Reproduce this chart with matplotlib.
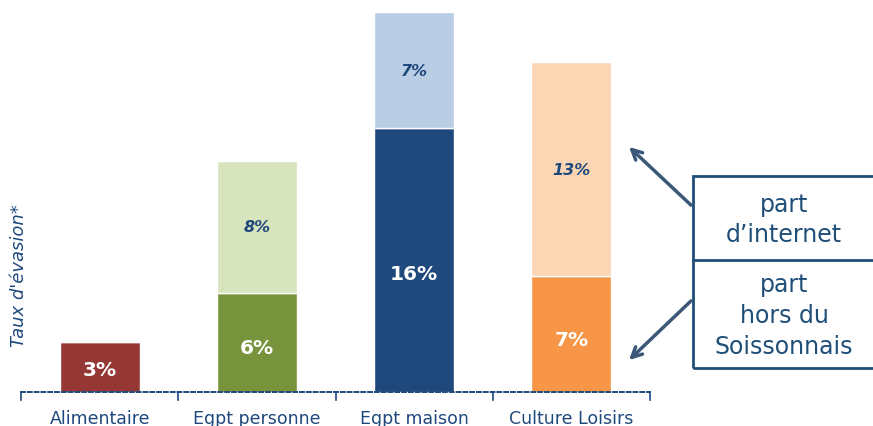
import matplotlib.pyplot as plt
from matplotlib.patches import Rectangle

categories = ['Alimentaire', 'Egpt personne', 'Egpt maison', 'Culture Loisirs']
hors_soissonnais = [3, 6, 16, 7]
internet = [0, 8, 7, 13]

dark_colors = ['#953735', '#77933C', '#1F497D', '#F79646']
light_colors = ['#D7E4BD', '#D7E4BD', '#B9CDE5', '#FCD5B5']
navy = '#1F497D'

fig = plt.figure(figsize=(8.73, 4.27), dpi=100)
ax = fig.add_axes([21 / 873, 34 / 427, 629 / 873, 393 / 427])

x = list(range(len(categories)))
ax.bar(x, hors_soissonnais, width=0.51, color=dark_colors, edgecolor='white', linewidth=1)
ax.bar(x, internet, width=0.51, bottom=hors_soissonnais, color=light_colors,
       edgecolor='white', linewidth=1)

for i in x:
    ax.text(i, hors_soissonnais[i] * 0.45, f'{hors_soissonnais[i]}%', ha='center', va='center',
            color='white', fontsize=14.5, fontweight='bold')
    if internet[i] > 0:
        ax.text(i, hors_soissonnais[i] + internet[i] / 2, f'{internet[i]}%', ha='center',
                va='center', color=navy, fontsize=11.5, fontweight='bold', style='italic')

ax.set_xlim(-0.5, 3.5)
ax.set_ylim(0, 23.8)
ax.set_yticks([])
ax.set_xticks(x)
ax.set_xticklabels(categories, fontsize=12.5, color=navy)
ax.tick_params(axis='x', length=0, pad=12)
for s in ['top', 'right', 'left']:
    ax.spines[s].set_visible(False)
ax.spines['bottom'].set_color(navy)
ax.spines['bottom'].set_linestyle((0, (2, 1.5)))
ax.spines['bottom'].set_linewidth(1.4)
# boundary ticks
for b in [-0.5, 0.5, 1.5, 2.5, 3.5]:
    ax.plot([b, b], [0, -0.5], color=navy, lw=1.2, clip_on=False)

fig.text(19 / 873, 1 - 276 / 427, "Taux d'évasion*", rotation=90, ha='center', va='center',
         color=navy, fontsize=13, style='italic')

# legend box on the right
box_color = '#1F4E79'
fig.patches.append(Rectangle((693 / 873, 1 - 369 / 427), 200 / 873, 192 / 427,
                             transform=fig.transFigure, fill=False, edgecolor=box_color, lw=2))
fig.add_artist(plt.Line2D([693 / 873, 1], [1 - 261 / 427, 1 - 261 / 427],
                          transform=fig.transFigure, color=box_color, lw=2))
fig.text(784 / 873, 1 - 220 / 427, "part\nd\u2019internet", ha='center', va='center',
         color=box_color, fontsize=17, linespacing=1.35)
fig.text(784 / 873, 1 - 316 / 427, "part\nhors du\nSoissonnais", ha='center', va='center',
         color=box_color, fontsize=17, linespacing=1.35)

arrow_color = '#3C5878'
fig.add_artist(plt.Annotation('', xy=(627 / 873, 1 - 146 / 427), xytext=(693 / 873, 1 - 208 / 427),
                              xycoords='figure fraction', textcoords='figure fraction',
                              arrowprops=dict(arrowstyle='->', color=arrow_color, lw=2.5,
                                              mutation_scale=18)))
fig.add_artist(plt.Annotation('', xy=(627 / 873, 1 - 363 / 427), xytext=(693 / 873, 1 - 300 / 427),
                              xycoords='figure fraction', textcoords='figure fraction',
                              arrowprops=dict(arrowstyle='->', color=arrow_color, lw=2.5,
                                              mutation_scale=18)))

fig.savefig('out.png', dpi=100)
